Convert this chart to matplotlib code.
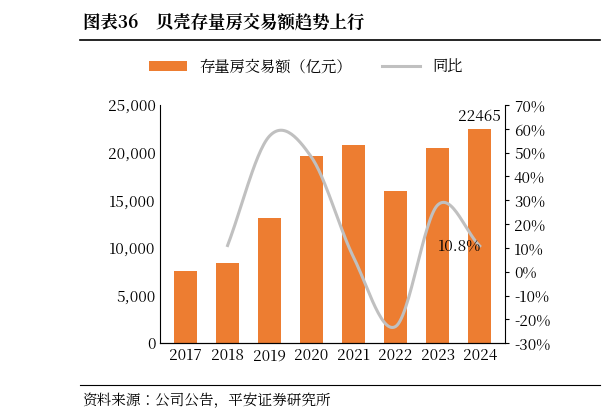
import numpy as np
import matplotlib
matplotlib.use("Agg")
import matplotlib.pyplot as plt
from matplotlib import font_manager as fm

cjk = None
for f in fm.findSystemFonts():
    if 'CJK' in f or 'cjk' in f.lower():
        try:
            fm.fontManager.addfont(f)
            name = fm.FontProperties(fname=f).get_name()
            if cjk is None or 'SC' in name:
                cjk = name
        except Exception:
            pass
plt.rcParams['font.family'] = [cjk or 'Noto Sans CJK SC', 'Noto Sans CJK JP', 'DejaVu Sans']

years = ['2017', '2018', '2019', '2020', '2021', '2022', '2023', '2024']
volume = [7600, 8400, 13100, 19600, 20800, 16000, 20500, 22465]
yoy_years = [1, 2, 3, 4, 5, 6, 7]
yoy = [11.0, 57.0, 48.0, 6.0, -23.0, 28.0, 10.8]

def catmull(xs, ys, n=30):
    xs = np.array(xs, float); ys = np.array(ys, float)
    px = np.concatenate([[2*xs[0]-xs[1]], xs, [2*xs[-1]-xs[-2]]])
    py = np.concatenate([[2*ys[0]-ys[1]], ys, [2*ys[-1]-ys[-2]]])
    ox, oy = [], []
    for i in range(1, len(px)-2):
        t = np.linspace(0, 1, n)
        for p, o in ((px, ox), (py, oy)):
            p0, p1, p2, p3 = p[i-1], p[i], p[i+1], p[i+2]
            o.extend(0.5*((2*p1) + (-p0+p2)*t + (2*p0-5*p1+4*p2-p3)*t**2 + (-p0+3*p1-3*p2+p3)*t**3))
    return ox, oy

fig = plt.figure(figsize=(6.12, 4.20), dpi=100)
ax = fig.add_axes([0.262, 0.183, 0.563, 0.567])
x = np.arange(len(years))
ax.bar(x, volume, width=0.55, color='#ED7D31', label='存量房交易额（亿元）')
ax.set_ylim(0, 25000)
ax.set_yticks(range(0, 25001, 5000))
ax.set_yticklabels([f'{v:,}' for v in range(0, 25001, 5000)])
ax.set_xticks(x)
ax.set_xticklabels(years)
ax.set_xlim(-0.6, 7.6)
for s in ['top', 'right']:
    ax.spines[s].set_visible(False)
ax.tick_params(labelsize=11, length=0)
ax.text(7, volume[-1] + 400, f'{volume[-1]}', ha='center', va='bottom', fontsize=11)

ax2 = ax.twinx()
sx, sy = catmull(yoy_years, yoy)
ax2.plot(sx, sy, color='#C0C0C0', lw=2.2, label='同比')
ax2.set_ylim(-30, 70)
ax2.set_yticks(range(-30, 71, 10))
ax2.set_yticklabels([f'{v}%' for v in range(-30, 71, 10)])
ax2.tick_params(labelsize=11, length=3)
for s in ['top', 'left']:
    ax2.spines[s].set_visible(False)
ax2.text(7.05, yoy[-1], '10.8%', ha='right', va='center', fontsize=11)

h1, l1 = ax.get_legend_handles_labels()
h2, l2 = ax2.get_legend_handles_labels()
fig.legend(h1 + h2, l1 + l2, loc='center', bbox_to_anchor=(0.5, 0.84), ncol=2,
           frameon=False, fontsize=11, handlelength=2.5)

fig.text(0.135, 0.945, '图表36    贝壳存量房交易额趋势上行', fontsize=12.5, fontweight='bold', va='center')
fig.add_artist(plt.Line2D([0.13, 0.98], [0.905, 0.905], color='black', lw=1.2))
fig.add_artist(plt.Line2D([0.13, 0.98], [0.083, 0.083], color='black', lw=0.8))
fig.text(0.135, 0.045, '资料来源：公司公告，平安证券研究所', fontsize=10.5, style='italic', va='center')

fig.savefig('out.png', dpi=100)
